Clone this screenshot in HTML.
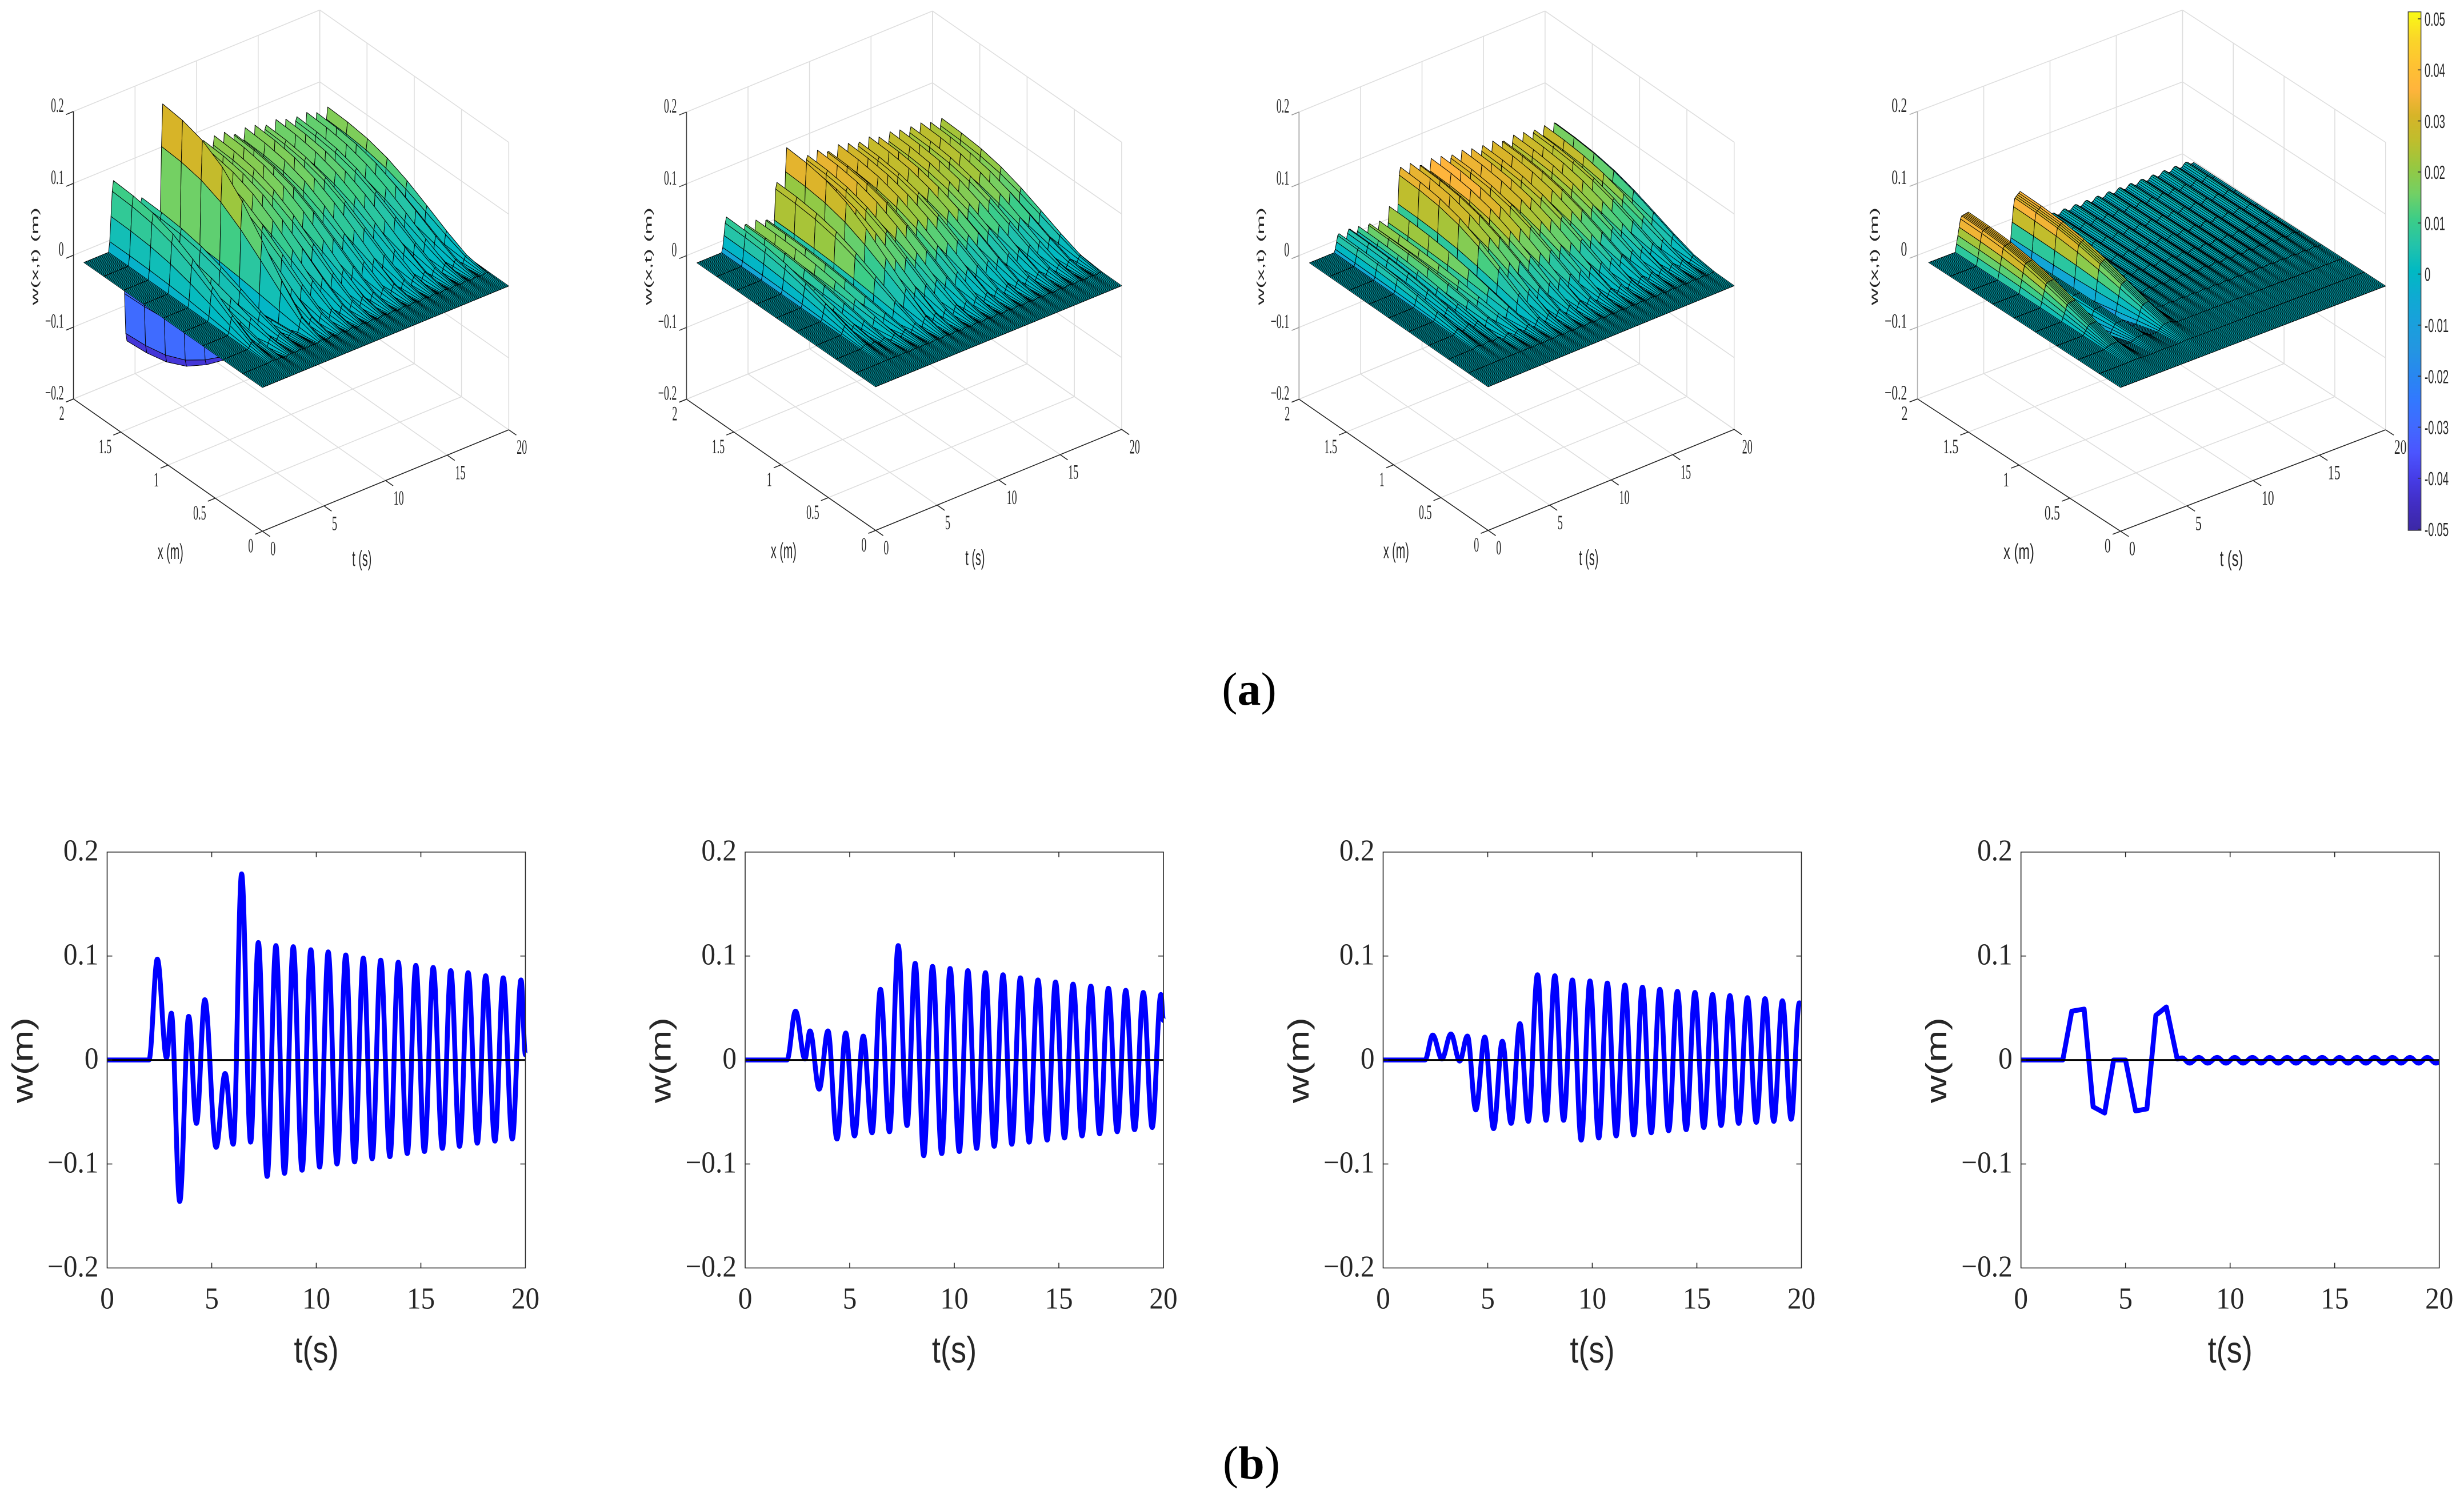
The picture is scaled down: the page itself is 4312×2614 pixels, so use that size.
<!DOCTYPE html>
<html lang="en">
<head>
<meta charset="utf-8">
<title>Beam deflection surfaces and tip responses</title>
<style>
html,body{margin:0;padding:0;background:#fff}
svg{display:block}
</style>
</head>
<body>
<svg id="fig" xmlns="http://www.w3.org/2000/svg" width="4312" height="2614" viewBox="0 0 4312 2614">
<defs>
<linearGradient id="parulaGrad" x1="0" y1="1" x2="0" y2="0"></linearGradient>
</defs>
<rect x="0" y="0" width="4312" height="2614" fill="#fff"></rect>
<text x="2186" y="1233" text-anchor="middle" font-family="'Liberation Serif',serif" font-size="82" fill="#000">(<tspan font-weight="bold">a</tspan>)</text>
<text x="2190" y="2587" text-anchor="middle" font-family="'Liberation Serif',serif" font-size="82" fill="#000">(<tspan font-weight="bold">b</tspan>)</text>
</svg>
<script>
// ---------- chart data ----------
const w1Times=[0,2,2.4,2.84,3.07,3.47,3.9,4.27,4.67,5.21,5.64,6.03,6.43,6.86,7.23,7.65,8.07,8.48,8.9,9.32,9.74,10.16,10.57,10.99,11.41,11.83,12.25,12.67,13.08,13.52,13.92,14.35,14.76,15.17,15.59,16.03,16.43,16.85,17.26,17.7,18.1,18.54,18.94,19.37,19.79,20];
const w1Values=[0,0,.097,.002,.045,-.136,.042,-.061,.058,-.084,-.013,-.081,.179,-.079,.113,-.112,.110,-.109,.109,-.106,.106,-.103,.104,-.100,.101,-.098,.098,-.095,.096,-.093,.094,-.090,.091,-.088,.089,-.085,.086,-.083,.084,-.080,.081,-.078,.079,-.076,.077,.005];
const w2Times=[0,2,2.41,2.86,3.1,3.54,3.96,4.39,4.81,5.23,5.65,6.07,6.47,6.9,7.32,7.74,8.13,8.54,8.96,9.4,9.8,10.24,10.65,11.07,11.49,11.91,12.33,12.75,13.16,13.58,14,14.44,14.84,15.27,15.68,16.11,16.53,16.95,17.37,17.79,18.2,18.62,19.04,19.46,19.88,20];
const w2Values=[0,0,.047,.001,.028,-.028,.028,-.076,.026,-.073,.023,-.070,.068,-.069,.110,-.063,.093,-.092,.090,-.090,.088,-.088,.086,-.085,.084,-.083,.082,-.081,.079,-.079,.077,-.077,.075,-.075,.073,-.073,.071,-.071,.069,-.069,.067,-.067,.065,-.065,.063,.038];
const w3Times=[0,2,2.37,2.81,3.24,3.66,4.03,4.43,4.86,5.28,5.7,6.12,6.54,6.94,7.38,7.79,8.21,8.63,9.05,9.47,9.89,10.31,10.72,11.14,11.56,11.98,12.4,12.82,13.23,13.65,14.07,14.49,14.91,15.33,15.75,16.16,16.58,17,17.42,17.84,18.26,18.68,19.09,19.51,19.9,20];
const w3Values=[0,0,.024,.001,.025,-.001,.023,-.048,.022,-.066,.018,-.061,.035,-.059,.082,-.058,.081,-.058,.077,-.077,.076,-.075,.074,-.073,.072,-.072,.070,-.070,.068,-.068,.066,-.067,.065,-.065,.063,-.063,.062,-.061,.060,-.060,.059,-.059,.057,-.057,.055,.054];
const w4Times=[0,2,2.43,3.02,3.45,4,4.43,5,5.48,6.02,6.45,6.95,7.47,7.7,8.06,8.5,8.93,9.38,9.8,10.22,10.62,11.07,11.48,11.89,12.3,12.73,13.15,13.58,13.99,14.4,14.82,15.23,15.64,16.07,16.49,16.91,17.33,17.76,18.17,18.6,19.01,19.43,19.84,20];
const w4Values=[0,0,.047,.049,-.045,-.051,0,0,-.049,-.047,.043,.051,.001,.002,-.003,.0025,-.003,.0025,-.003,.0025,-.003,.0025,-.003,.0025,-.003,.0025,-.003,.0025,-.003,.0025,-.003,.0025,-.003,.0025,-.003,.0025,-.003,.0025,-.003,.0025,-.003,.0025,-.003,-.002];
const w4LinearUntil=7.47;
// beam mode shape along x (fraction of tip deflection) at each surface grid column
const modeShape=[0,.01,.08,.26,.47,.67,.83,.93,.98,1];
const colorWeight=[0,0,.02,.08,.22,.45,.7,.88,.97,1];
const gridDx=.21;
const gridDt=.1;
const tTicks=[0,5,10,15,20];
const tTickLabels=['0','5','10','15','20'];
const yTicks=[-.2,-.1,0,.1,.2];
const yTickLabels=['\u22120.2','\u22120.1','0','0.1','0.2'];
const xTicks=[0,.5,1,1.5,2];
const xTickLabels=['0','0.5','1','1.5','2'];
const cbTicks=[.05,.04,.03,.02,.01,0,-.01,-.02,-.03,-.04,-.05];
const cbTickLabels=['0.05','0.04','0.03','0.02','0.01','0','-0.01','-0.02','-0.03','-0.04','-0.05'];
const cMin=-.05;
const cMax=.0514;
// parula-like colormap sampled from the colorbar, bottom to top
const parulaR=[60,65,70,75,65,50,40,35,25,15,0,35,60,115,150,190,215,255,254,250,249];
const parulaG=[40,45,60,85,105,120,135,150,160,170,185,195,205,208,200,190,180,180,195,215,251];
const parulaB=[165,195,230,255,255,255,240,225,220,210,195,170,135,100,65,45,40,60,50,40,20];

// ---------- layout ----------
const svg=document.getElementById('fig');
const NS='http://www.w3.org/2000/svg';
const INK='#262626';
const SERIF="'Liberation Serif',serif";
const SANS="'Liberation Sans',sans-serif";

function mk(tag,attrs,parent,name){
  const el=document.createElementNS(NS,tag);
  for(const k in attrs){el.setAttribute(k,attrs[k]);}
  
  
  parent.appendChild(el);
  return el;
}
function line(parent,a,b,c,d,color,w,name){
  return mk('line',{x1:a,y1:b,x2:c,y2:d,stroke:color,'stroke-width':w},parent,name);
}
// text placed by its digit centre; horizontally squeezed by xs
function label(parent,str,x,cy,size,xs,anchor,family,name){
  const t=mk('text',{transform:'translate('+x+','+(cy+.338*size)+') scale('+xs+',1)','font-size':size,'font-family':family,fill:INK,'text-anchor':anchor},parent,name);
  t.textContent=str;
  return t;
}
function parenLabel(parent,str,x,cy,size,xs,family,name){
  const t=mk('text',{transform:'translate('+x+','+(cy+.26*size)+') scale('+xs+',1)','font-size':size,'font-family':family,fill:INK,'text-anchor':'middle'},parent,name);
  t.textContent=str;
  return t;
}
function rotLabel(parent,str,x,cy,size,ys,family,name){
  const t=mk('text',{transform:'translate('+x+','+cy+') rotate(-90) scale(1,'+ys+') translate(0,'+(.26*size)+')','font-size':size,'font-family':family,fill:INK,'text-anchor':'middle'},parent,name);
  t.textContent=str;
  return t;
}
function qAt(T,V,t,linearUntil){
  if(t<=T[0])return V[0];
  for(let i=0;i<T.length-1;i++){
    if(t<=T[i+1]){
      const f=(t-T[i])/(T[i+1]-T[i]);
      if(T[i+1]<=linearUntil&&T[i]>=2)return V[i]+(V[i+1]-V[i])*f;
      return V[i]+(V[i+1]-V[i])*(1-Math.cos(Math.PI*f))/2;
    }
  }
  return V[V.length-1];
}
function parula(c){
  let f=(c-cMin)/(cMax-cMin);
  f=Math.max(0,Math.min(1,f))*(parulaR.length-1);
  const i=Math.min(parulaR.length-2,Math.floor(f));
  const u=f-i;
  const m=a=>Math.round(a[i]+(a[i+1]-a[i])*u);
  return 'rgb('+m(parulaR)+','+m(parulaG)+','+m(parulaB)+')';
}

// ---------- bottom row: 2-D response plots ----------
const plot2dLeft=[187.5,1304,2420.5,3536.7];
const plot2dW=732,plot2dTop=1490.8,plot2dBottom=2218.5;
const seriesT=[w1Times,w2Times,w3Times,w4Times];
const seriesV=[w1Values,w2Values,w3Values,w4Values];
const seriesLinear=[0,0,0,w4LinearUntil];

function draw2d(idx){
  const g=mk('g',{},svg,'response-plot-'+(idx+1));
  const L=plot2dLeft[idx];
  const sx=t=>L+t/20*plot2dW;
  const sy=v=>plot2dTop+(.2-v)/.4*(plot2dBottom-plot2dTop);
  const T=seriesT[idx],V=seriesV[idx],lin=seriesLinear[idx];
  let d='M'+sx(T[0]).toFixed(2)+' '+sy(V[0]).toFixed(2);
  for(let i=0;i<T.length-1;i++){
    const x0=sx(T[i]),x1=sx(T[i+1]),y0=sy(V[i]),y1=sy(V[i+1]);
    if(T[i+1]<=lin&&T[i]>=2||V[i]===V[i+1]){
      d+=' L'+x1.toFixed(2)+' '+y1.toFixed(2);
    }else{
      const c=.36*(x1-x0);
      d+=' C'+(x0+c).toFixed(2)+' '+y0.toFixed(2)+' '+(x1-c).toFixed(2)+' '+y1.toFixed(2)+' '+x1.toFixed(2)+' '+y1.toFixed(2);
    }
  }
  mk('path',{d:d,fill:'none',stroke:'#0000ff','stroke-width':8.5,'stroke-linejoin':'round','stroke-linecap':'butt'},g,'response-curve');
  line(g,sx(0),sy(0),sx(20),sy(0),'#000',3,'zero-line');
  mk('rect',{x:L,y:plot2dTop,width:plot2dW,height:plot2dBottom-plot2dTop,fill:'none',stroke:INK,'stroke-width':1.6},g,'plot-frame');
  tTicks.forEach((t,i)=>{
    if(i>0&&i<tTicks.length-1){
      line(g,sx(t),plot2dBottom,sx(t),plot2dBottom-9,INK,1.6,'x-tick');
      line(g,sx(t),plot2dTop,sx(t),plot2dTop+9,INK,1.6,'x-tick');
    }
    label(g,tTickLabels[i],sx(t),2271.4,53,.93,'middle',SERIF,'x-tick-label');
  });
  yTicks.forEach((v,i)=>{
    if(i>0&&i<yTicks.length-1){
      line(g,L,sy(v),L+9,sy(v),INK,1.6,'y-tick');
      line(g,L+plot2dW,sy(v),L+plot2dW-9,sy(v),INK,1.6,'y-tick');
    }
    label(g,yTickLabels[i],L-15,sy(v)-3,53,.93,'end',SERIF,'y-tick-label');
  });
  parenLabel(g,'t(s)',L+plot2dW/2,2367,64.5,.84,SANS,'x-axis-title');
  rotLabel(g,'w(m)',L-144,1855,67.5,.76,SANS,'y-axis-title');
}

// ---------- top row: 3-D surfaces ----------
const panels=[
 {xc:[128.6,698],o:[459.3,929.5],tc:[890.3,752],top:195,zc:'#262626',xs:.5,titleDx:-66,xTitle:-161,tTitle:174,ys:.43,gain:.22,gamma:.5,mix:.07,dip:true},
 {xc:[1201.4,698.5],o:[1532.4,928],tc:[1962.9,751.3],top:196,zc:'#404040',xs:.5,titleDx:-65.4,xTitle:-161,tTitle:174,ys:.43,gain:.7,gamma:0,mix:0,dip:false},
 {xc:[2273.3,698.5],o:[2604.3,928],tc:[3034.8,751.3],top:196,zc:'#9a9a9a',xs:.5,titleDx:-66,xTitle:-161,tTitle:176,ys:.43,gain:.9,gamma:0,mix:0,dip:false},
 {xc:[3355.6,698],o:[3711,929.5],tc:[4174.8,752],top:195,zc:'#b0b0b0',xs:.6,titleDx:-74.6,xTitle:-178,tTitle:194,ys:.47,gain:.5,gamma:0,mix:.7,dip:false}
];

function draw3d(idx){
  const p=panels[idx];
  const g=mk('g',{},svg,'surface-plot-'+(idx+1));
  const zh=p.xc[1]-p.top;
  const P=(x,t,w)=>{
    const xf=x/2,tf=t/20,wf=(w+.2)/.4;
    return [p.o[0]+(p.xc[0]-p.o[0])*xf+(p.tc[0]-p.o[0])*tf,
            p.o[1]+(p.xc[1]-p.o[1])*xf+(p.tc[1]-p.o[1])*tf-zh*wf];
  };
  const seg=(a,b,color,w,name)=>line(g,a[0].toFixed(2),a[1].toFixed(2),b[0].toFixed(2),b[1].toFixed(2),color,w,name);
  const GRID='#dedede';
  // walls and floor grid
  yTicks.forEach(v=>{
    seg(P(2,0,v),P(2,20,v),GRID,1.6,'wall-grid-line');
    seg(P(2,20,v),P(0,20,v),GRID,1.6,'wall-grid-line');
  });
  tTicks.forEach(t=>{
    seg(P(2,t,-.2),P(2,t,.2),GRID,1.6,'wall-grid-line');
    seg(P(0,t,-.2),P(2,t,-.2),GRID,1.6,'floor-grid-line');
  });
  xTicks.forEach(x=>{
    seg(P(x,20,-.2),P(x,20,.2),GRID,1.6,'wall-grid-line');
    seg(P(x,0,-.2),P(x,20,-.2),GRID,1.6,'floor-grid-line');
  });
  // main axes
  seg(P(2,0,-.2),P(2,0,.2),p.zc,1.6,'z-axis-line');
  seg(P(0,0,-.2),P(2,0,-.2),INK,1.6,'x-axis-line');
  seg(P(0,0,-.2),P(0,20,-.2),INK,1.6,'t-axis-line');
  // ticks and tick labels
  const kx=(p.tc[0]-p.xc[0])/762;
  yTicks.forEach((v,i)=>{
    const a=P(2,0,v),b=P(2,-.6,v);
    seg(a,b,p.zc,1.6,'z-tick');
    label(g,yTickLabels[i],a[0]-17*kx,a[1]-11,36,p.xs,'end',SERIF,'z-tick-label');
  });
  xTicks.forEach((x,i)=>{
    const a=P(x,0,-.2),b=P(x,-.6,-.2);
    seg(a,b,INK,1.6,'x-tick');
    label(g,xTickLabels[i],a[0]-16*kx,a[1]+25,36,p.xs,'end',SERIF,'x-tick-label');
  });
  tTicks.forEach((t,i)=>{
    const a=P(0,t,-.2),b=P(-.08,t,-.2);
    seg(a,b,INK,1.6,'t-tick');
    label(g,tTickLabels[i],a[0]+14*kx,a[1]+30,36,p.xs,'start',SERIF,'t-tick-label');
  });
  parenLabel(g,'x (m)',p.o[0]+p.xTitle,p.o[1]+38.5,38,p.xs+.02,SANS,'x-axis-title');
  parenLabel(g,'t (s)',p.o[0]+p.tTitle,p.o[1]+50.5,38,p.xs+.02,SANS,'t-axis-title');
  rotLabel(g,'w(x,t) (m)',p.xc[0]+p.titleDx,448.5,40.5,p.ys,SANS,'z-axis-title');

  // surface: tip response times beam mode shape, painted far to near
  const T=seriesT[idx],V=seriesV[idx],lin=seriesLinear[idx];
  const nT=Math.round(20/gridDt);
  const q=[];
  for(let k=0;k<=nT;k++){q.push(qAt(T,V,k*gridDt,lin));}
  const surf=mk('g',{stroke:'#000','stroke-width':.95,'stroke-linejoin':'round'},g,'surface');
  for(let k=nT-1;k>=0;k--){
    const k2=Math.min(nT,k+2);
    const curv=-(q[k2]-2*q[k+1]+q[k]);
    const tHi=(k+1)*gridDt;
    const base=p.gain*curv*Math.pow(Math.abs(curv)/.05,p.gamma)+p.mix*q[k+1];
    // the first deep dip shows its underside: blue sheet with a violet rim
    const dipFace=p.dip&&q[k+1]<-.03&&tHi>3&&tHi<3.55;
    const dipColor=tHi>3.45?-.042:-.029;
    for(let i=modeShape.length-2;i>=0;i--){
      const xa=i*gridDx,xb=(i+1)*gridDx,ta=k*gridDt,tb=tHi;
      const a=P(xa,ta,q[k]*modeShape[i]);
      const b=P(xb,ta,q[k]*modeShape[i+1]);
      const c=P(xb,tb,q[k+1]*modeShape[i+1]);
      const e=P(xa,tb,q[k+1]*modeShape[i]);
      const C=(dipFace&&i>=3)?dipColor:base*colorWeight[i+1];
      const d='M'+a[0].toFixed(1)+' '+a[1].toFixed(1)+'L'+b[0].toFixed(1)+' '+b[1].toFixed(1)+'L'+c[0].toFixed(1)+' '+c[1].toFixed(1)+'L'+e[0].toFixed(1)+' '+e[1].toFixed(1)+'Z';
      const face=document.createElementNS(NS,'path');
      face.setAttribute('d',d);
      face.setAttribute('fill',parula(C));
      
      
      surf.appendChild(face);
    }
  }
}

// ---------- colorbar ----------
function drawColorbar(){
  const grad=document.getElementById('parulaGrad');
  parulaR.forEach((r,i)=>{
    const s=document.createElementNS(NS,'stop');
    s.setAttribute('offset',(i/(parulaR.length-1)).toFixed(3));
    s.setAttribute('stop-color','rgb('+r+','+parulaG[i]+','+parulaB[i]+')');
    
    
    grad.appendChild(s);
  });
  const g=mk('g',{},svg,'colorbar');
  const x0=4214.3,x1=4236.7,y0=20.7,y1=928;
  mk('rect',{x:x0,y:y0,width:x1-x0,height:y1-y0,fill:'url(#parulaGrad)',stroke:'#404040','stroke-width':1.4},g,'colorbar-body');
  const sy=c=>926-(c+.05)/.1*(926-33);
  cbTicks.forEach((c,i)=>{
    line(g,x1-5.5,sy(c),x1,sy(c),'#303030',1.6,'colorbar-tick');
    label(g,cbTickLabels[i],4243,sy(c)+1,33,.56,'start',SANS,'colorbar-tick-label');
  });
}

for(let i=0;i<4;i++){draw3d(i);}
for(let i=0;i<4;i++){draw2d(i);}
drawColorbar();
</script>
</body>
</html>
